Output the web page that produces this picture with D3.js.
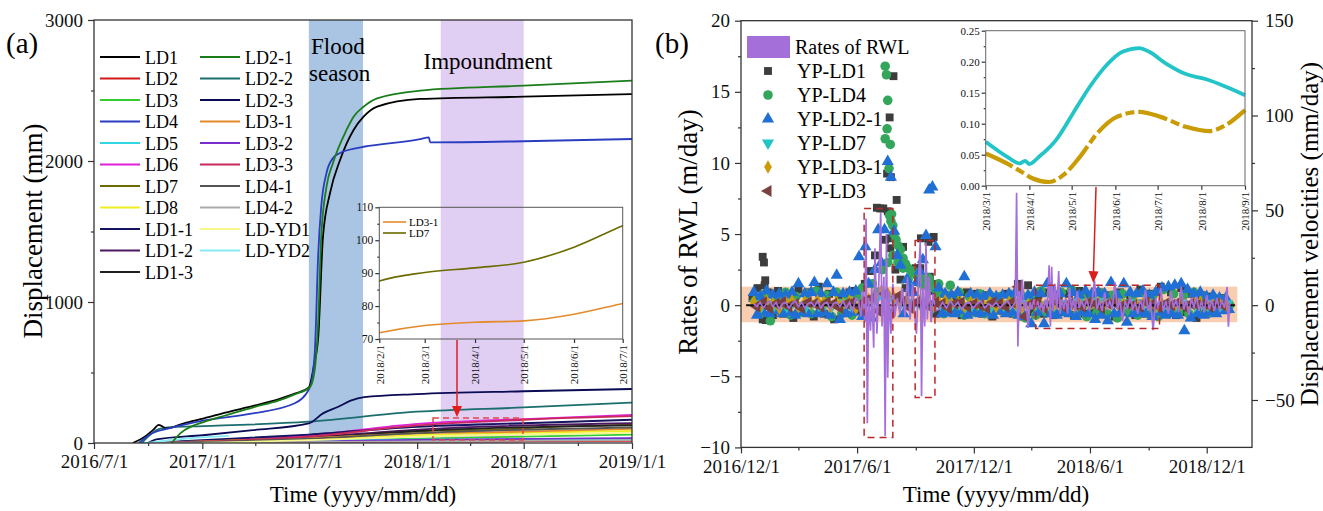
<!DOCTYPE html>
<html lang="en">
<head>
<meta charset="UTF-8" />
<title>Displacement and RWL rates</title>
<style>
  body { margin: 0; background: #fff; }
  svg, svg text { font-family: "Liberation Serif", "Times New Roman", "DejaVu Serif", "Noto Serif", serif; }
</style>
</head>
<body>
<svg id="chart" width="1323" height="511"></svg>
<script src="https://cdn.jsdelivr.net/npm/d3@7"></script>
<script>
// ---------- panel (a): displacement (mm) at key dates ----------
const LD1 = [["2016-09-05",0],["2016-09-25",45],["2016-10-10",95],["2016-10-19",128],["2016-11-02",104],["2016-12-01",140],["2017-01-04",175],["2017-02-09",215],["2017-03-30",265],["2017-05-10",310],["2017-06-07",350],["2017-07-01",395],["2017-07-10",560],["2017-07-17",754],["2017-07-25",1463],["2017-08-06",1773],["2017-08-23",2007],["2017-09-15",2220],["2017-10-02",2314],["2017-10-25",2385],["2018-01-06",2440],["2018-07-01",2456],["2019-01-01",2475]];
const LD2 = [["2016-10-01",0],["2018-01-01",10],["2019-01-01",15]];
const LD3 = [["2016-10-01",0],["2017-07-01",15],["2018-01-01",30],["2018-07-01",45],["2019-01-01",60]];
const LD4 = [["2016-09-15",0],["2016-10-07",67],["2016-11-05",103],["2017-01-02",158],["2017-03-28",210],["2017-06-07",282],["2017-07-03",397],["2017-07-11",638],["2017-07-17",1347],["2017-07-22",1676],["2017-07-31",1915],["2017-08-11",2021],["2017-08-23",2057],["2017-09-21",2092],["2017-10-02",2101],["2018-01-06",2155],["2018-01-21",2168],["2018-01-23",2132],["2018-07-01",2140],["2019-01-01",2156]];
const LD5 = [["2016-09-20",0],["2017-07-01",18],["2018-01-01",24],["2019-01-01",30]];
const LD6 = [["2016-10-01",0],["2017-01-01",15],["2017-07-01",55],["2018-01-01",135],["2018-07-01",170],["2019-01-01",200]];
const LD7 = [["2016-10-01",0],["2017-07-01",40],["2018-01-01",80],["2018-02-01",87.6],["2018-03-01",90.2],["2018-04-01",91.6],["2018-05-01",93.3],["2018-06-01",97.9],["2018-07-01",104.4],["2019-01-01",130]];
const LD8 = [["2016-10-01",0],["2017-07-01",25],["2018-01-01",55],["2019-01-01",85]];
const LD1_1 = [["2016-10-01",0],["2017-01-01",20],["2017-07-01",60],["2018-01-01",115],["2018-07-01",140],["2019-01-01",165]];
const LD1_2 = [["2016-10-01",0],["2017-07-01",40],["2018-01-01",95],["2019-01-01",140]];
const LD1_3 = [["2016-10-01",0],["2017-07-01",35],["2018-01-01",85],["2019-01-01",125]];
const LD2_1 = [["2016-11-10",0],["2016-11-25",70],["2016-12-15",120],["2017-01-04",150],["2017-02-09",195],["2017-03-30",255],["2017-05-10",300],["2017-06-07",345],["2017-07-03",397],["2017-07-11",518],["2017-07-17",872],["2017-07-22",1463],["2017-07-31",1818],["2017-08-11",1986],["2017-09-03",2220],["2017-09-15",2314],["2017-10-02",2385],["2017-10-25",2444],["2018-01-06",2499],["2018-07-01",2534],["2019-01-01",2570]];
const LD2_2 = [["2016-09-20",0],["2016-10-20",100],["2016-11-10",113],["2017-01-02",120],["2017-07-01",151],["2018-01-01",222],["2018-07-01",252],["2019-01-01",286]];
const LD2_3 = [["2016-10-01",0],["2016-10-15",25],["2017-01-02",55],["2017-03-28",91],["2017-07-01",139],["2017-07-25",210],["2017-08-19",255],["2017-09-10",300],["2017-10-03",325],["2018-01-01",347],["2018-07-01",367],["2019-01-01",383]];
const LD3_1 = [["2016-10-01",0],["2017-07-01",35],["2018-01-01",68],["2018-02-01",71.9],["2018-03-01",74.1],["2018-04-01",75.1],["2018-05-01",75.5],["2018-06-01",77.5],["2018-07-01",80.8],["2019-01-01",100]];
const LD3_2 = [["2016-10-01",0],["2017-07-01",10],["2018-01-01",22],["2019-01-01",35]];
const LD3_3 = [["2016-10-01",0],["2017-07-01",45],["2018-01-01",125],["2018-07-01",165],["2019-01-01",190]];
const LD4_1 = [["2016-10-01",0],["2017-07-01",30],["2018-01-01",70],["2019-01-01",110]];
const LD4_2 = [["2016-10-01",0],["2019-01-01",20]];
const LD_YD1 = [["2017-01-01",0],["2017-07-01",20],["2018-01-01",45],["2019-01-01",72]];
const LD_YD2 = [["2016-10-01",0],["2016-12-01",30],["2017-02-15",50]];

const legendCol1 = ["LD1","LD2","LD3","LD4","LD5","LD6","LD7","LD8","LD1-1","LD1-2","LD1-3"];
const legendCol2 = ["LD2-1","LD2-2","LD2-3","LD3-1","LD3-2","LD3-3","LD4-1","LD4-2","LD-YD1","LD-YD2"];
const seriesA = {"LD1":LD1,"LD2":LD2,"LD3":LD3,"LD4":LD4,"LD5":LD5,"LD6":LD6,"LD7":LD7,"LD8":LD8,"LD1-1":LD1_1,"LD1-2":LD1_2,"LD1-3":LD1_3,
  "LD2-1":LD2_1,"LD2-2":LD2_2,"LD2-3":LD2_3,"LD3-1":LD3_1,"LD3-2":LD3_2,"LD3-3":LD3_3,"LD4-1":LD4_1,"LD4-2":LD4_2,"LD-YD1":LD_YD1,"LD-YD2":LD_YD2};
const colorsA = {"LD1":"#000000","LD2":"#d01818","LD3":"#33cc33","LD4":"#2a3cc0","LD5":"#30d6e2","LD6":"#e020d8","LD7":"#6b6b00","LD8":"#eeee22","LD1-1":"#141460","LD1-2":"#4e1860","LD1-3":"#202020",
  "LD2-1":"#1a7d1a","LD2-2":"#1a6e6e","LD2-3":"#0a0a55","LD3-1":"#e48a2c","LD3-2":"#7a2ccc","LD3-3":"#c8285a","LD4-1":"#555555","LD4-2":"#aaaaaa","LD-YD1":"#f7f78c","LD-YD2":"#86eaf2"};
const insetNamesA = ["LD3-1","LD7"];

const floodSeason = ["2017-07-01","2017-10-01"];
const impoundment = ["2018-02-10","2018-07-01"];
const ticksA = ["2016-07-01","2017-01-01","2017-07-01","2018-01-01","2018-07-01","2019-01-01"];
const minorTicksA = ["2016-10-01","2017-04-01","2017-10-01","2018-04-01","2018-10-01"];
const insetTicksA = ["2018-02-01","2018-03-01","2018-04-01","2018-05-01","2018-06-01","2018-07-01"];

// ---------- panel (b): days counted from 2016-12-01 ----------
// YP-LD2-1, every 5 days from day 20
const ypLD2_1 = [0.9,-0.7,0.6,-0.5,1.0,-0.6,0.7,-0.4,0.8,-0.6,
  0.7,-0.5,0.9,-0.7,1.5,-0.5,0.8,-0.6,0.9,1.6,
  -0.6,0.8,-0.5,1.5,-0.7,0.9,2.1,-1.0,0.8,-0.6,
  0.9,-0.5,1.0,3.4,-0.8,4.1,1.5,-0.9,2.5,5.3,
  3.0,5.3,10.1,9.0,5.2,3.5,2.8,-0.6,1.8,1.2,
  0.9,1.6,2.4,3.2,4.9,8.1,8.3,4.1,1.2,-0.6,
  0.8,-0.5,0.7,-0.6,0.9,-0.4,2.0,-0.7,0.8,-0.5,
  0.7,-0.6,0.6,-0.5,0.8,-0.7,0.6,-0.4,0.7,-0.6,
  0.8,-0.5,0.9,-0.7,0.6,-0.8,0.7,-1.3,0.9,-0.5,
  0.8,-1.3,1.5,-0.6,0.9,-0.7,0.8,-0.5,1.5,-0.6,
  0.9,-0.8,0.7,-0.5,1.0,-0.6,0.8,-1.0,0.9,-0.7,
  0.8,-1.1,1.6,-0.6,0.7,-0.5,1.5,-1.2,0.9,-0.6,
  0.8,-0.5,1.0,-0.6,0.7,-0.8,0.9,-0.5,1.2,-0.7,
  1.3,-0.6,1.4,-0.7,1.5,-1.8,1.1,-0.9,0.8,-0.6,
  0.9,-0.7,0.6,-0.5,0.7,-0.6,0.5,-0.4,0.5,-0.3];
// YP-LD4, every 8 days from day 22
const ypLD4 = [0.3,-0.6,0.8,-1.1,0.5,-0.4,0.9,-0.7,0.6,-0.5,
  0.8,-0.6,1.0,-0.5,0.7,-0.8,0.9,-0.6,0.5,-0.7,
  0.6,1.2,-0.8,1.5,0.9,2.5,3.0,3.5,3.0,2.6,
  1.8,2.4,1.6,1.4,1.9,1.2,0.8,-0.6,0.7,-0.5,
  0.9,-0.7,0.6,-0.5,0.8,-0.6,0.7,-0.4,0.6,-0.5,
  0.7,-0.6,0.8,-0.9,0.6,-0.7,1.0,-0.5,0.8,-0.6,
  0.9,-0.5,1.1,-0.7,0.6,-0.8,0.7,-0.5,0.8,-0.6,
  0.7,-0.9,0.8,-0.5,0.6,-0.7,0.9,-0.6,0.7,-0.8,
  1.1,-0.6,0.8,-0.5,0.7,-0.6,0.9,-0.4,0.6,-0.5,
  0.5,-0.3,0.4,0.0];
const ypLD4Peaks = [[226,16.8],[228,16.2],[230,14.4],[229,12.4],[226,11.7],[234,11.3],[232,9.6],[233,6.3],[235,5.9],[236,6.4],[238,5.6],[240,5.0],[243,4.6],[246,4.2],[250,3.9],[254,3.3],[258,2.9],[262,2.6],[268,2.3],[275,2.1],[282,2.0],[295,1.7],[310,1.5],[328,1.4]];
// YP-LD1, every 8 days from day 18
const ypLD1 = [0.5,1.2,-1.0,0.9,-0.7,1.0,-0.6,0.8,-0.9,1.1,
  -0.5,0.9,-0.8,1.3,-0.6,0.8,-1.0,0.7,-0.5,0.9,
  1.0,-0.4,1.5,2.4,3.5,6.8,4.6,4.0,2.5,1.8,
  1.2,0.9,2.6,4.7,1.5,1.0,-0.6,0.8,-0.5,0.7,
  0.6,-0.7,0.9,-0.5,0.8,-0.6,0.7,-0.8,0.5,-0.4,
  0.8,-0.6,1.5,-0.8,1.4,-0.5,0.7,-0.6,0.9,-0.7,
  0.6,-0.5,0.8,-0.7,1.0,-0.6,0.7,-0.5,0.9,-0.6,
  0.7,-0.8,0.9,-0.5,0.6,-0.7,1.1,-0.6,0.8,-0.5,
  1.3,-0.6,0.9,-0.7,1.2,-0.5,0.8,-0.9,0.7,-0.6,
  0.6,-0.4,0.5,-0.3];
const ypLD1Peaks = [[34,3.4],[36,3.0],[38,1.75],[37,1.4],[39,-1.05],[239,16.1],[233,13.2],[229,9.25],[235,9.0],[244,7.4],[213,6.85],[223,6.8],[230,6.6],[235,4.7],[254,4.1],[302,4.8],[300,4.7],[294,4.45],[281,2.6],[306,1.5],[296,2.0]];
// YP-LD3-1, every 10 days from day 20
const ypLD3_1 = [0.2,-0.1,0.3,0.1,-0.2,0.2,0.3,-0.1,0.2,0.1,
  0.3,0.2,-0.1,0.2,0.1,0.3,-0.2,0.1,0.4,0.6,
  1.0,0.8,0.5,0.3,0.2,0.1,0.3,0.2,-0.1,0.2,
  0.3,0.1,0.2,-0.1,0.2,0.1,0.0,0.2,-0.1,0.1,
  0.2,0.1,-0.2,0.055,0.045,0.033,0.022,0.01,0.006,0.015,
  0.04,0.07,0.095,0.112,0.118,0.118,0.112,0.105,0.097,0.09,
  0.088,0.1,0.12,-0.1,0.1,0.1,0.0,0.1,-0.1,0.1,
  0.2,0.1,0.0,0.1,0.0];
// YP-LD7, every 10 days from day 22
const ypLD7 = [0.1,-0.1,0.1,0.0,0.1,-0.1,0.2,0.0,-0.1,0.1,
  0.0,0.1,-0.1,0.1,0.2,0.0,-0.1,0.1,0.3,0.4,
  0.6,0.5,0.3,0.2,0.1,0.2,0.0,0.1,-0.1,0.1,
  0.0,0.1,0.1,-0.1,0.0,0.1,0.0,-0.1,0.1,0.0,
  0.1,0.0,0.1,0.07,0.05,0.036,0.035,0.05,0.08,0.115,
  0.15,0.18,0.205,0.218,0.222,0.218,0.205,0.19,0.18,0.174,
  0.166,0.155,0.145,-0.1,0.0,0.1,0.0,0.1,-0.1,0.0,
  0.1,0.0,0.1,0.0,0.1];
// YP-LD3, every 10 days from day 25
const ypLD3 = [-0.1,0.2,-0.2,0.1,0.2,-0.1,0.1,-0.2,0.2,0.1,
  -0.1,0.2,0.1,-0.2,0.1,0.2,-0.1,0.3,0.5,-0.4,
  0.8,-0.5,0.6,0.3,-0.2,0.2,0.1,-0.1,0.2,0.1,
  -0.2,0.1,0.2,-0.1,0.1,0.0,-0.2,0.2,0.1,-0.1,
  0.2,1.3,-0.8,0.1,0.2,-0.2,0.1,0.2,-0.1,0.1,
  0.0,-0.1,0.2,0.1,-0.2,0.1,0.2,-0.1,0.1,0.0,
  -0.1,0.2,0.1,-0.1,0.1,0.0,0.2,-0.1,0.1,0.0,
  0.1,-0.1,0.1,0.0];
// Rates of RWL (m/day): [day, value]
const rwlRates = [[20,0.1],[25,-0.1],[30,0.2],[35,-0.2],[40,0.1],[45,0.3],[50,-0.1],[55,0.2],[60,-0.3],[65,0.1],[70,0.2],[75,-0.2],[80,0.1],[85,0.3],[90,-0.1],[95,0.2],[100,-0.2],[105,0.1],[110,0.2],[115,-0.1],[120,0.3],[125,-0.2],[130,0.1],[135,0.2],[140,-0.3],[145,0.1],[150,0.2],[155,-0.1],[160,0.3],[165,-0.2],[170,0.2],[175,-0.4],[180,0.5],
  [184,0.3],[188,-0.8],[191,1.0],[194,-1.2],[196,6.1],[198,-8.3],[200,0.5],[203,-1.8],[205,1.2],[208,-3.0],[210,4.0],[213,-2.0],[216,1.5],[219,6.5],[221,-1.5],[224,2.0],[226,-9.2],[228,5.0],[230,-5.1],[232,1.0],[235,-2.0],[238,1.5],[241,-0.8],[245,0.5],
  [249,-0.6],[253,1.2],[257,-0.8],[261,2.0],[265,-1.0],[269,1.5],[272,-0.5],
  [275,-2.0],[278,1.5],[281,4.5],[283,-6.4],[285,1.2],[288,-1.5],[290,4.4],[292,-1.0],[295,2.0],[298,-1.2],[301,0.8],[305,-0.4],
  [310,-0.3],[316,0.2],[322,-0.2],[328,0.3],[334,-0.1],[340,0.2],[346,-0.3],[352,0.1],[358,0.2],[364,-0.2],[370,0.1],[376,0.3],[382,-0.2],[388,0.1],[394,-0.1],[400,0.2],[406,-0.2],[412,0.1],[418,0.3],[424,-0.2],[430,0.2],
  [432,7.9],[434,-2.9],[436,1.0],[438,-0.5],
  [441,1.8],[444,-0.4],[447,0.3],[450,-1.6],[453,0.2],[456,-0.3],[459,0.4],[462,-0.2],[465,0.3],[468,-0.3],[471,0.2],[474,-0.5],[477,0.4],[480,-0.2],[483,2.8],[485,-1.5],[487,2.7],[489,-0.4],[492,1.5],[495,-0.3],[498,2.4],[500,-0.6],[503,0.4],[506,-0.3],[509,0.5],[512,-0.6],[515,1.2],[518,-0.3],[521,0.4],[524,-0.5],[527,1.0],[530,-0.2],
  [534,0.3],[538,-0.2],[542,0.4],[546,-0.3],[550,0.2],[554,1.75],[558,-0.3],[562,0.3],[566,-0.4],[570,0.9],[574,-0.2],[578,0.3],[582,-0.3],[586,1.6],[590,-0.3],[594,0.4],[598,-1.1],[602,0.3],[606,-0.2],[610,0.6],[614,-0.3],[618,0.2],[622,-0.6],[626,0.4],[630,-0.3],[634,1.1],[638,-0.4],[642,0.3],[646,-1.76],[650,0.5],[654,-0.3],[658,1.2],[662,-0.4],[666,0.3],[670,-0.6],[674,1.0],[678,-0.2],[682,0.4],[686,-0.5],[690,1.3],[694,-0.3],[698,0.4],[702,-0.7],[706,0.5],[710,-0.2],[714,0.6],[718,-0.4],[722,0.3],[726,-0.5],[730,0.7],[734,-0.3],[738,0.4],[742,-0.4],[746,0.5],[750,-0.3],[754,0.3],[758,-0.2],[762,1.28],[764,-1.52],[766,0.2]];
// inset (b): displacement velocity (m/day)
const insetLD7 = [["2018-03-01",0.071],["2018-03-16",0.047],["2018-03-25",0.036],["2018-03-29",0.040],["2018-04-01",0.035],["2018-04-08",0.047],["2018-04-20",0.074],["2018-05-02",0.117],["2018-05-14",0.160],["2018-05-26",0.195],["2018-06-06",0.216],["2018-06-18",0.222],["2018-06-25",0.216],["2018-07-07",0.197],["2018-07-21",0.180],["2018-08-04",0.172],["2018-08-18",0.160],["2018-09-01",0.146]];
const insetLD3_1 = [["2018-03-01",0.052],["2018-03-16",0.036],["2018-03-26",0.023],["2018-04-03",0.012],["2018-04-15",0.006],["2018-04-25",0.017],["2018-05-07",0.047],["2018-05-19",0.084],["2018-06-02",0.111],["2018-06-18",0.119],["2018-07-03",0.111],["2018-07-21",0.095],["2018-08-07",0.088],["2018-08-17",0.096],["2018-09-01",0.122]];
const legendB = ["Rates of RWL","YP-LD1","YP-LD4","YP-LD2-1","YP-LD7","YP-LD3-1","YP-LD3"];
const ticksB = ["2016-12-01","2017-06-01","2017-12-01","2018-06-01","2018-12-01"];
const minorTicksB = ["2017-03-01","2017-09-01","2018-03-01","2018-09-01"];
const insetTicksB = ["2018-03-01","2018-04-01","2018-05-01","2018-06-01","2018-07-01","2018-08-01","2018-09-01"];
const normalBand = [-1.2, 1.3];
const rectsB = [[193,238,-9.3,6.8],[273,304,-6.5,4.55],[462,656,-1.64,1.4]]; // day0, day1, low, high

// ---------- drawing ----------
const svg = d3.select("#chart");
const parse = d3.timeParse("%Y-%m-%d");
const fmt = d3.timeFormat("%Y/%-m/%-d");
const base = parse("2016-12-01");
const dayDate = d => d3.timeDay.offset(base, d);
const FONT = "Liberation Serif, Times New Roman, DejaVu Serif, serif";
const INK = "#333";
svg.attr("font-family", FONT);

function styleAxis(g, size) {
  g.attr("font-family", FONT);
  g.select(".domain").remove();
  g.selectAll(".tick line").attr("stroke", INK).attr("stroke-width", 1.2);
  g.selectAll(".tick text").attr("font-family", FONT).attr("font-size", size).attr("fill", "#111");
}
svg.append("defs").append("clipPath").attr("id", "clipA").append("rect").attr("x", 94).attr("y", 20).attr("width", 538).attr("height", 423);
svg.select("defs").append("clipPath").attr("id", "clipAi").append("rect").attr("x", 379).attr("y", 207).attr("width", 244).attr("height", 132);

// ===== panel (a) =====
const xA = d3.scaleTime().domain([parse("2016-07-01"), parse("2019-01-01")]).range([94, 632]);
const yA = d3.scaleLinear().domain([0, 3000]).range([443, 20]);
const gA = svg.append("g");

gA.append("rect").attr("x", xA(parse(floodSeason[0]))).attr("y", 20)
  .attr("width", xA(parse(floodSeason[1])) - xA(parse(floodSeason[0]))).attr("height", 423).attr("fill", "#a9c5e3");
gA.append("rect").attr("x", xA(parse(impoundment[0]))).attr("y", 20)
  .attr("width", xA(parse(impoundment[1])) - xA(parse(impoundment[0]))).attr("height", 423).attr("fill", "#e0cff3");

gA.append("text").attr("x", 311).attr("y", 54).attr("font-size", 23).text("Flood");
gA.append("text").attr("x", 309).attr("y", 81).attr("font-size", 23).text("season");
gA.append("text").attr("x", 488).attr("y", 69).attr("font-size", 23).attr("text-anchor", "middle").text("Impoundment");

const lineA = d3.line().x(d => xA(parse(d[0]))).y(d => yA(d[1])).curve(d3.curveMonotoneX);
const drawOrderA = legendCol1.concat(legendCol2).filter(n => !["LD1","LD4","LD2-1"].includes(n)).concat(["LD1","LD4","LD2-1"]);
gA.append("g").attr("clip-path", "url(#clipA)").selectAll("path").data(drawOrderA).join("path")
  .attr("d", n => lineA(seriesA[n])).attr("fill", "none")
  .attr("stroke", n => colorsA[n]).attr("stroke-width", 1.8);

// red mark: dashed box and arrow
gA.append("rect").attr("x", 433).attr("y", 418).attr("width", 90).attr("height", 22)
  .attr("fill", "none").attr("stroke", "#e04848").attr("stroke-width", 1.5).attr("stroke-dasharray", "6,4");
gA.append("line").attr("x1", 457).attr("y1", 340).attr("x2", 457).attr("y2", 407).attr("stroke", "#e01e1e").attr("stroke-width", 1.5);
gA.append("path").attr("d", "M452,406 L462,406 L457,417 Z").attr("fill", "#e01e1e");

// axes
gA.append("g").attr("transform", "translate(0,443)")
  .call(d3.axisBottom(xA).tickValues(ticksA.map(parse)).tickFormat(fmt).tickSizeInner(6).tickSizeOuter(0).tickPadding(6))
  .call(g => styleAxis(g, 19));
gA.append("g").attr("transform", "translate(0,443)")
  .call(d3.axisBottom(xA).tickValues(minorTicksA.map(parse)).tickFormat("").tickSize(3))
  .call(g => styleAxis(g, 19));
gA.append("g").attr("transform", "translate(94,0)")
  .call(d3.axisLeft(yA).tickValues([0, 1000, 2000, 3000]).tickFormat(d3.format("d")).tickSizeInner(6).tickSizeOuter(0).tickPadding(5))
  .call(g => styleAxis(g, 19));
gA.append("g").attr("transform", "translate(94,0)")
  .call(d3.axisLeft(yA).tickValues([500, 1500, 2500]).tickFormat("").tickSize(3))
  .call(g => styleAxis(g, 19));
gA.append("rect").attr("x", 94).attr("y", 20).attr("width", 538).attr("height", 423)
  .attr("fill", "none").attr("stroke", INK).attr("stroke-width", 1.3);

// legend (a)
[legendCol1, legendCol2].forEach((col, c) => {
  const lg = gA.append("g").selectAll("g").data(col).join("g")
    .attr("transform", (n, i) => `translate(${100 + c * 100},${57 + i * 21.5})`);
  lg.append("line").attr("x1", 0).attr("x2", 40).attr("stroke", n => colorsA[n]).attr("stroke-width", 2);
  lg.append("text").attr("x", 45).attr("y", 6.5).attr("font-size", 18).text(n => n);
});

// inset (a)
const xAi = d3.scaleTime().domain([parse("2018-02-01"), parse("2018-07-01")]).range([379.3, 622.7]);
const yAi = d3.scaleLinear().domain([70, 110]).range([339, 207.3]);
const gAi = svg.append("g");
const lineAi = d3.line().x(d => xAi(parse(d[0]))).y(d => yAi(d[1])).curve(d3.curveMonotoneX);
gAi.append("g").attr("clip-path", "url(#clipAi)").selectAll("path").data(insetNamesA).join("path")
  .attr("d", n => lineAi(seriesA[n])).attr("fill", "none").attr("stroke", n => colorsA[n]).attr("stroke-width", 1.6);
gAi.append("g").attr("transform", "translate(379.3,0)")
  .call(d3.axisLeft(yAi).tickValues([70, 80, 90, 100, 110]).tickSizeInner(4).tickSizeOuter(0).tickPadding(2))
  .call(g => styleAxis(g, 11.5));
gAi.append("g").attr("transform", "translate(379.3,0)")
  .call(d3.axisLeft(yAi).tickValues([75, 85, 95, 105]).tickFormat("").tickSize(2))
  .call(g => styleAxis(g, 11));
const axAi = gAi.append("g").attr("transform", "translate(0,339)")
  .call(d3.axisBottom(xAi).tickValues(insetTicksA.map(parse)).tickFormat(fmt).tickSizeInner(4).tickSizeOuter(0))
  .call(g => styleAxis(g, 11));
axAi.selectAll(".tick text").attr("transform", "rotate(-90)").attr("text-anchor", "end").attr("x", -6).attr("y", 0).attr("dy", "0.35em");
gAi.append("rect").attr("x", 379.3).attr("y", 207.3).attr("width", 243.4).attr("height", 131.7)
  .attr("fill", "none").attr("stroke", "#555").attr("stroke-width", 1);
const lgi = gAi.append("g").selectAll("g").data(insetNamesA).join("g")
  .attr("transform", (n, i) => `translate(383,${222 + i * 11})`);
lgi.append("line").attr("x1", 0).attr("x2", 23).attr("stroke", n => colorsA[n]).attr("stroke-width", 1.6);
lgi.append("text").attr("x", 26).attr("y", 4).attr("font-size", 11).text(n => n);

svg.append("text").attr("x", 6).attr("y", 53).attr("font-size", 29).text("(a)");
svg.append("text").attr("transform", "translate(42,231) rotate(-90)").attr("text-anchor", "middle").attr("font-size", 27).text("Displacement (mm)");
svg.append("text").attr("x", 363).attr("y", 502).attr("text-anchor", "middle").attr("font-size", 23).text("Time (yyyy/mm/dd)");

// ===== panel (b) =====
const xB = d3.scaleTime().domain([base, parse("2019-02-10")]).range([741, 1252]);
const yB = d3.scaleLinear().domain([-10, 20]).range([447.4, 20.7]);
const yBr = d3.scaleLinear().domain([-75, 150]).range([447.4, 20.7]);
const gB = svg.append("g");

gB.append("rect").attr("x", xB(dayDate(0))).attr("y", yB(normalBand[1]))
  .attr("width", xB(dayDate(778)) - xB(dayDate(0))).attr("height", yB(normalBand[0]) - yB(normalBand[1])).attr("fill", "#f9cdb0");

const colB = {gray: "#3d3d3d", green: "#33a65c", blue: "#1f6fd4", cyan: "#22c4c8", gold: "#c99c05", brown: "#7a4040", purple: "#a56fd9"};
const symTri = d3.symbol().type(d3.symbolTriangle).size(64)();
const symSq = d3.symbol().type(d3.symbolSquare).size(62)();
const symCir = d3.symbol().type(d3.symbolCircle).size(72)();
const symDia = d3.symbol().type(d3.symbolDiamond).size(52)();

function markers(vals, start, step, shape, color, rot) {
  gB.append("g").selectAll("path").data(vals).join("path").attr("d", shape).attr("fill", color)
    .attr("transform", (v, i) => `translate(${xB(dayDate(start + i * step))},${yB(v)}) rotate(${rot})`);
}
function peaks(pairs, shape, color, rot) {
  gB.append("g").selectAll("path").data(pairs).join("path").attr("d", shape).attr("fill", color)
    .attr("transform", p => `translate(${xB(dayDate(p[0]))},${yB(p[1])}) rotate(${rot})`);
}
markers(ypLD1, 18, 8, symSq, colB.gray, 0);
peaks(ypLD1Peaks, symSq, colB.gray, 0);
markers(ypLD4, 22, 8, symCir, colB.green, 0);
peaks(ypLD4Peaks, symCir, colB.green, 0);
markers(ypLD2_1, 20, 5, symTri, colB.blue, 0);
markers(ypLD7, 22, 10, symTri, colB.cyan, 180);
markers(ypLD3_1, 20, 10, symDia, colB.gold, 0);
markers(ypLD3, 25, 10, symTri, colB.brown, -90);

gB.append("line").attr("x1", xB(dayDate(8))).attr("x2", xB(dayDate(776))).attr("y1", yB(0)).attr("y2", yB(0))
  .attr("stroke", "#111").attr("stroke-width", 2).attr("stroke-dasharray", "8,5");
gB.append("path").datum(rwlRates)
  .attr("d", d3.line().x(p => xB(dayDate(p[0]))).y(p => yB(p[1])))
  .attr("fill", "none").attr("stroke", colB.purple).attr("stroke-width", 1.7);

gB.append("g").selectAll("rect").data(rectsB).join("rect")
  .attr("x", r => xB(dayDate(r[0]))).attr("y", r => yB(r[3]))
  .attr("width", r => xB(dayDate(r[1])) - xB(dayDate(r[0]))).attr("height", r => yB(r[2]) - yB(r[3]))
  .attr("fill", "none").attr("stroke", "#b82828").attr("stroke-width", 1.5).attr("stroke-dasharray", "7,5");
gB.append("line").attr("x1", 1096).attr("y1", 187).attr("x2", 1093.5).attr("y2", 272).attr("stroke", "#d81e1e").attr("stroke-width", 1.5);
gB.append("path").attr("d", "M1088.5,271 L1098.5,271.5 L1093.3,283 Z").attr("fill", "#d81e1e");

// axes (b)
gB.append("g").attr("transform", "translate(0,447.4)")
  .call(d3.axisBottom(xB).tickValues(ticksB.map(parse)).tickFormat(fmt).tickSizeInner(6).tickSizeOuter(0).tickPadding(6))
  .call(g => styleAxis(g, 19));
gB.append("g").attr("transform", "translate(0,447.4)")
  .call(d3.axisBottom(xB).tickValues(minorTicksB.map(parse)).tickFormat("").tickSize(3))
  .call(g => styleAxis(g, 19));
gB.append("g").attr("transform", "translate(741,0)")
  .call(d3.axisLeft(yB).tickValues([-10, -5, 0, 5, 10, 15, 20]).tickSizeInner(6).tickSizeOuter(0).tickPadding(5))
  .call(g => styleAxis(g, 19));
gB.append("g").attr("transform", "translate(741,0)")
  .call(d3.axisLeft(yB).tickValues([-7.5, -2.5, 2.5, 7.5, 12.5, 17.5]).tickFormat("").tickSize(3))
  .call(g => styleAxis(g, 19));
gB.append("g").attr("transform", "translate(1252,0)")
  .call(d3.axisRight(yBr).tickValues([-50, 0, 50, 100, 150]).tickSizeInner(6).tickSizeOuter(0).tickPadding(7))
  .call(g => styleAxis(g, 19));
gB.append("g").attr("transform", "translate(1252,0)")
  .call(d3.axisRight(yBr).tickValues([-25, 25, 75, 125]).tickFormat("").tickSize(3))
  .call(g => styleAxis(g, 19));
gB.append("rect").attr("x", 741).attr("y", 20.7).attr("width", 511).attr("height", 426.7)
  .attr("fill", "none").attr("stroke", INK).attr("stroke-width", 1.3);

// inset (b)
const xBi = d3.scaleTime().domain([parse("2018-03-01"), parse("2018-09-01")]).range([985.7, 1245]);
const yBi = d3.scaleLinear().domain([0, 0.25]).range([185.7, 30.7]);
const gBi = svg.append("g");
gBi.append("rect").attr("x", 985.7).attr("y", 30.7).attr("width", 259.3).attr("height", 155).attr("fill", "#fff");
const lineBi = d3.line().x(d => xBi(parse(d[0]))).y(d => yBi(d[1])).curve(d3.curveMonotoneX);
gBi.append("path").attr("d", lineBi(insetLD3_1)).attr("fill", "none").attr("stroke", colB.gold).attr("stroke-width", 4.2).attr("stroke-dasharray", "30,4,9,4");
gBi.append("path").attr("d", lineBi(insetLD7)).attr("fill", "none").attr("stroke", colB.cyan).attr("stroke-width", 3.8);
gBi.append("g").attr("transform", "translate(985.7,0)")
  .call(d3.axisLeft(yBi).tickValues([0, 0.05, 0.1, 0.15, 0.2, 0.25]).tickFormat(d3.format(".2f")).tickSizeInner(4).tickSizeOuter(0).tickPadding(2))
  .call(g => styleAxis(g, 11));
gBi.append("g").attr("transform", "translate(985.7,0)")
  .call(d3.axisLeft(yBi).tickValues([0.025, 0.075, 0.125, 0.175, 0.225]).tickFormat("").tickSize(2))
  .call(g => styleAxis(g, 11));
const axBi = gBi.append("g").attr("transform", "translate(0,185.7)")
  .call(d3.axisBottom(xBi).tickValues(insetTicksB.map(parse)).tickFormat(fmt).tickSizeInner(4).tickSizeOuter(0))
  .call(g => styleAxis(g, 11));
axBi.selectAll(".tick text").attr("transform", "rotate(-90)").attr("text-anchor", "end").attr("x", -6).attr("y", 0).attr("dy", "0.35em");
gBi.append("rect").attr("x", 985.7).attr("y", 30.7).attr("width", 259.3).attr("height", 155)
  .attr("fill", "none").attr("stroke", "#666").attr("stroke-width", 1);

// legend (b)
const gL = svg.append("g");
gL.append("rect").attr("x", 747).attr("y", 36).attr("width", 43).attr("height", 22).attr("fill", colB.purple);
gL.append("text").attr("x", 795).attr("y", 54).attr("font-size", 20).text(legendB[0]);
const legShapes = [[symSq, colB.gray, 0], [symCir, colB.green, 0], [symTri, colB.blue, 0], [symTri, colB.cyan, 180], [symDia, colB.gold, 0], [symTri, colB.brown, -90]];
legendB.slice(1).forEach((name, i) => {
  const y = 71 + i * 24;
  gL.append("path").attr("d", legShapes[i][0]).attr("fill", legShapes[i][1]).attr("transform", `translate(768,${y}) rotate(${legShapes[i][2]})`);
  gL.append("text").attr("x", 797).attr("y", y + 7).attr("font-size", 20).text(name);
});

svg.append("text").attr("x", 655).attr("y", 53).attr("font-size", 29).text("(b)");
svg.append("text").attr("transform", "translate(697,232) rotate(-90)").attr("text-anchor", "middle").attr("font-size", 27).text("Rates of RWL (m/day)");
svg.append("text").attr("transform", "translate(1318,234) rotate(-90)").attr("text-anchor", "middle").attr("font-size", 25).text("Displacement velocities (mm/day)");
svg.append("text").attr("x", 996).attr("y", 502).attr("text-anchor", "middle").attr("font-size", 23).text("Time (yyyy/mm/dd)");
</script>
</body>
</html>
